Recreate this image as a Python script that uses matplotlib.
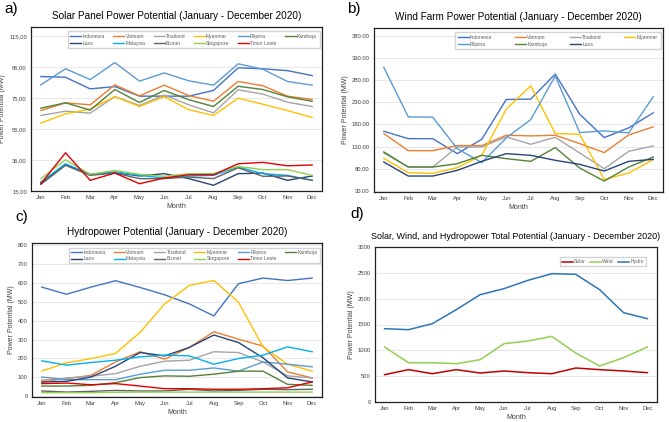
import numpy as np
import matplotlib
matplotlib.use("Agg")
from matplotlib import pyplot as plt
from matplotlib.ticker import FuncFormatter

plt.rcParams['font.family'] = ['Liberation Sans', 'DejaVu Sans']

months = ['Jan', 'Feb', 'Mar', 'Apr', 'May', 'Jun', 'Jul', 'Aug', 'Sep', 'Oct', 'Nov', 'Dec']

colors = {
    'Indonesia': '#4472C4', 'Vietnam': '#ED7D31', 'Thailand': '#A5A5A5',
    'Myanmar': '#FFC000', 'Filipina': '#5B9BD5', 'Kamboja': '#548235',
    'Laos': '#264478', 'Malaysia': '#00B0F0', 'Brunei': '#636363',
    'Singapore': '#92D050', 'Timor Leste': '#E00000',
}

# a) solar
solar = {
    'Indonesia': [89, 88.5, 81, 82.5, 76.3, 76.3, 76.3, 80, 94.6, 94, 92.8, 89.6],
    'Vietnam': [67, 72, 70.7, 83.6, 76.5, 83.4, 76.7, 73, 85.8, 83, 76.3, 74.1],
    'Thailand': [63.8, 66.6, 65.3, 76, 70.3, 77, 70.7, 65.5, 80.4, 77.6, 72.4, 69.6],
    'Myanmar': [58.9, 64.9, 67.9, 76, 69.6, 76, 67.5, 63.8, 75, 71.1, 67, 62.5],
    'Filipina': [83.6, 94, 87, 98, 86, 91.3, 86.2, 83.4, 97.2, 93.7, 85.8, 83.4],
    'Kamboja': [68.5, 72, 67.3, 80.6, 72.2, 80, 74, 69.6, 82.7, 80.6, 75.9, 73],
    'Laos': [20.2, 32, 25.8, 27, 24.7, 26.2, 23, 18.7, 26.2, 26.6, 21.9, 24.7],
    'Malaysia': [20.8, 32.6, 25.8, 27.3, 25.1, 23.4, 24.7, 25.1, 30.5, 26.2, 25.1, 21.9],
    'Brunei': [19.3, 31.6, 25.1, 26.6, 23, 23, 24, 23, 30, 24.5, 24.7, 21.9],
    'Singapore': [23, 35.2, 25.8, 28.3, 25.8, 24.5, 26.2, 26.2, 30.9, 28.8, 28.8, 25.1],
    'Timor Leste': [19.7, 39.7, 21.9, 26.6, 19.7, 23.4, 25.5, 25.5, 32.6, 33.5, 31.3, 31.8],
}

# b) wind
wind = {
    'Indonesia': [164.7, 148, 148, 114.3, 146.7, 236.2, 237, 293.4, 203, 150.4, 172.3, 206],
    'Vietnam': [159.5, 121, 121, 132.4, 132.4, 155.7, 154.2, 155.7, 136.9, 116.6, 156.5, 174.5],
    'Thailand': [115.8, 84.2, 84.2, 129.4, 129.4, 152, 135.4, 151.2, 115.8, 80.4, 119.6, 131.6],
    'Myanmar': [103.8, 71.4, 69.9, 82.7, 110.5, 214.4, 267, 159.5, 158, 56.3, 70.7, 100.8],
    'Filipina': [308.5, 197, 196.3, 125.6, 94, 149.7, 191, 289, 161.7, 165.5, 161, 242.3],
    'Kamboja': [118.1, 84.2, 84.2, 91.7, 110.5, 103, 97, 127.9, 81.9, 52.6, 84.2, 106.8],
    'Laos': [95.5, 63.9, 63.9, 76.7, 97, 114.3, 110.5, 99.3, 90.2, 75.2, 97, 101.5],
}

# c) hydro
hydro = {
    'Indonesia': [578, 540, 578, 612, 576, 537, 489, 425, 596, 626, 613, 626],
    'Vietnam': [84, 92, 110, 181, 235, 196, 258, 341, 302, 265, 128, 96],
    'Thailand': [71, 96, 105, 119, 158, 185, 190, 235, 231, 181, 107, 96],
    'Myanmar': [133, 176, 199, 226, 338, 489, 587, 613, 498, 261, 169, 132],
    'Filipina': [101, 87, 87, 87, 116, 137, 137, 149, 132, 181, 169, 155],
    'Kamboja': [53, 53, 57, 71, 98, 107, 105, 116, 132, 132, 62, 57],
    'Laos': [75, 78, 101, 158, 231, 213, 258, 324, 284, 203, 96, 75],
    'Malaysia': [187, 164, 178, 190, 208, 217, 213, 169, 199, 217, 261, 235],
    'Brunei': [27, 21, 25, 30, 27, 27, 36, 27, 30, 36, 34, 36],
    'Singapore': [18, 18, 18, 20, 21, 21, 21, 21, 21, 21, 21, 21],
    'Timor Leste': [66, 69, 60, 66, 53, 39, 39, 36, 36, 39, 44, 75],
}

# d) totals
total_solar = [529, 626, 548, 626, 561, 600, 568, 548, 658, 626, 600, 568]
total_wind = [1065, 761, 761, 742, 819, 1129, 1181, 1271, 948, 697, 858, 1065]
total_hydro = [1419, 1400, 1516, 1787, 2077, 2194, 2355, 2484, 2471, 2174, 1729, 1613]

fig = plt.figure(figsize=(6.69, 4.22), dpi=100)
W, H = 669, 422


def make_ax(l, t, r, b):
    return fig.add_axes([l / W, 1 - b / H, (r - l) / W, (b - t) / H])


def style(ax, ylim, ticks, fmt, title, title_size=7.2):
    x = np.arange(len(months))
    ax.set_xlim(-0.4, len(months) - 0.6)
    ax.set_ylim(*ylim)
    ax.set_yticks(ticks)
    ax.yaxis.set_major_formatter(FuncFormatter(fmt))
    ax.set_xticks(x)
    ax.set_xticklabels(months)
    ax.tick_params(labelsize=4.2, length=0, colors='#404040', pad=3)
    ax.grid(axis='y', color='#E4E4E4', lw=0.6)
    ax.set_axisbelow(True)
    for s in ax.spines.values():
        s.set_color('#202020')
        s.set_linewidth(0.9)
    ax.set_xlabel('Month', fontsize=5, color='#404040', labelpad=2)
    ax.set_ylabel('Power Potential (MW)', fontsize=5, color='#404040', labelpad=2)
    ax.set_title(title, fontsize=title_size, pad=6)


def row_legend(ax, ncol, colsp, anchor=(1.0, 0.99), borderpad=0.5, labelsp=0.4):
    # excel fills legend row by row, matplotlib column by column
    h, l = ax.get_legend_handles_labels()
    n = len(h)
    rows = -(-n // ncol)
    order = [r * ncol + c for c in range(ncol) for r in range(rows) if r * ncol + c < n]
    ax.legend([h[i] for i in order], [l[i] for i in order], ncol=ncol, fontsize=3.6,
              loc='upper right', bbox_to_anchor=anchor, frameon=True, fancybox=False,
              edgecolor='#C8C8C8', handlelength=2.2, columnspacing=colsp,
              handletextpad=0.3, borderpad=borderpad, labelspacing=labelsp,
              labelcolor='#606060')


x = np.arange(len(months))

# a
ax = make_ax(31, 27, 322, 191)
for k, v in solar.items():
    ax.plot(x, v, color=colors[k], lw=1.0, label=k)
style(ax, (15, 121), np.arange(15, 116, 20), lambda v, p: f'{v:.2f}'.replace('.', ','),
      'Solar Panel Power Potential (January - December 2020)')
row_legend(ax, 6, 1.6)

# b
ax = make_ax(374, 28, 663, 192)
for k, v in wind.items():
    ax.plot(x, v, color=colors[k], lw=1.0, label=k)
style(ax, (28, 397), np.arange(30, 381, 50), lambda v, p: f'{v:.2f}',
      'Wind Farm Power Potential (January - December 2020)')
row_legend(ax, 4, 4.5)

# c
ax = make_ax(32, 243, 322, 397)
for k, v in hydro.items():
    ax.plot(x, v, color=colors[k], lw=1.0, label=k)
style(ax, (-5, 812), np.arange(0, 801, 100), lambda v, p: f'{v:.0f}',
      'Hydropower Potential (January - December 2020)')
row_legend(ax, 6, 1.6, anchor=(1.0, 0.985), borderpad=0.4, labelsp=0.3)

# d
ax = make_ax(375, 247, 657, 402)
ax.plot(x, total_solar, color='#C00000', lw=1.1, label='Solar')
ax.plot(x, total_wind, color='#92D050', lw=1.1, label='Wind')
ax.plot(x, total_hydro, color='#2E75B6', lw=1.1, label='Hydro')
style(ax, (0, 3000), np.arange(0, 3001, 500), lambda v, p: f'{v:.0f}',
      'Solar, Wind, and Hydropower Total Potential (January - December 2020)', 6.5)
ax.legend(ncol=3, fontsize=3.6, loc='upper right', bbox_to_anchor=(0.97, 0.95),
          frameon=True, fancybox=False, edgecolor='#C8C8C8', handlelength=2.2,
          columnspacing=0.8, handletextpad=0.3, borderpad=0.4,
          labelcolor='#606060')

# panel tags
for tag, px, py in [('a)', 4, 2), ('b)', 347, 2), ('c)', 15, 210), ('d)', 350, 207)]:
    fig.text(px / W, 1 - py / H, tag, fontsize=11, va='top', ha='left')

fig.savefig('out.png', dpi=100, facecolor='white')
